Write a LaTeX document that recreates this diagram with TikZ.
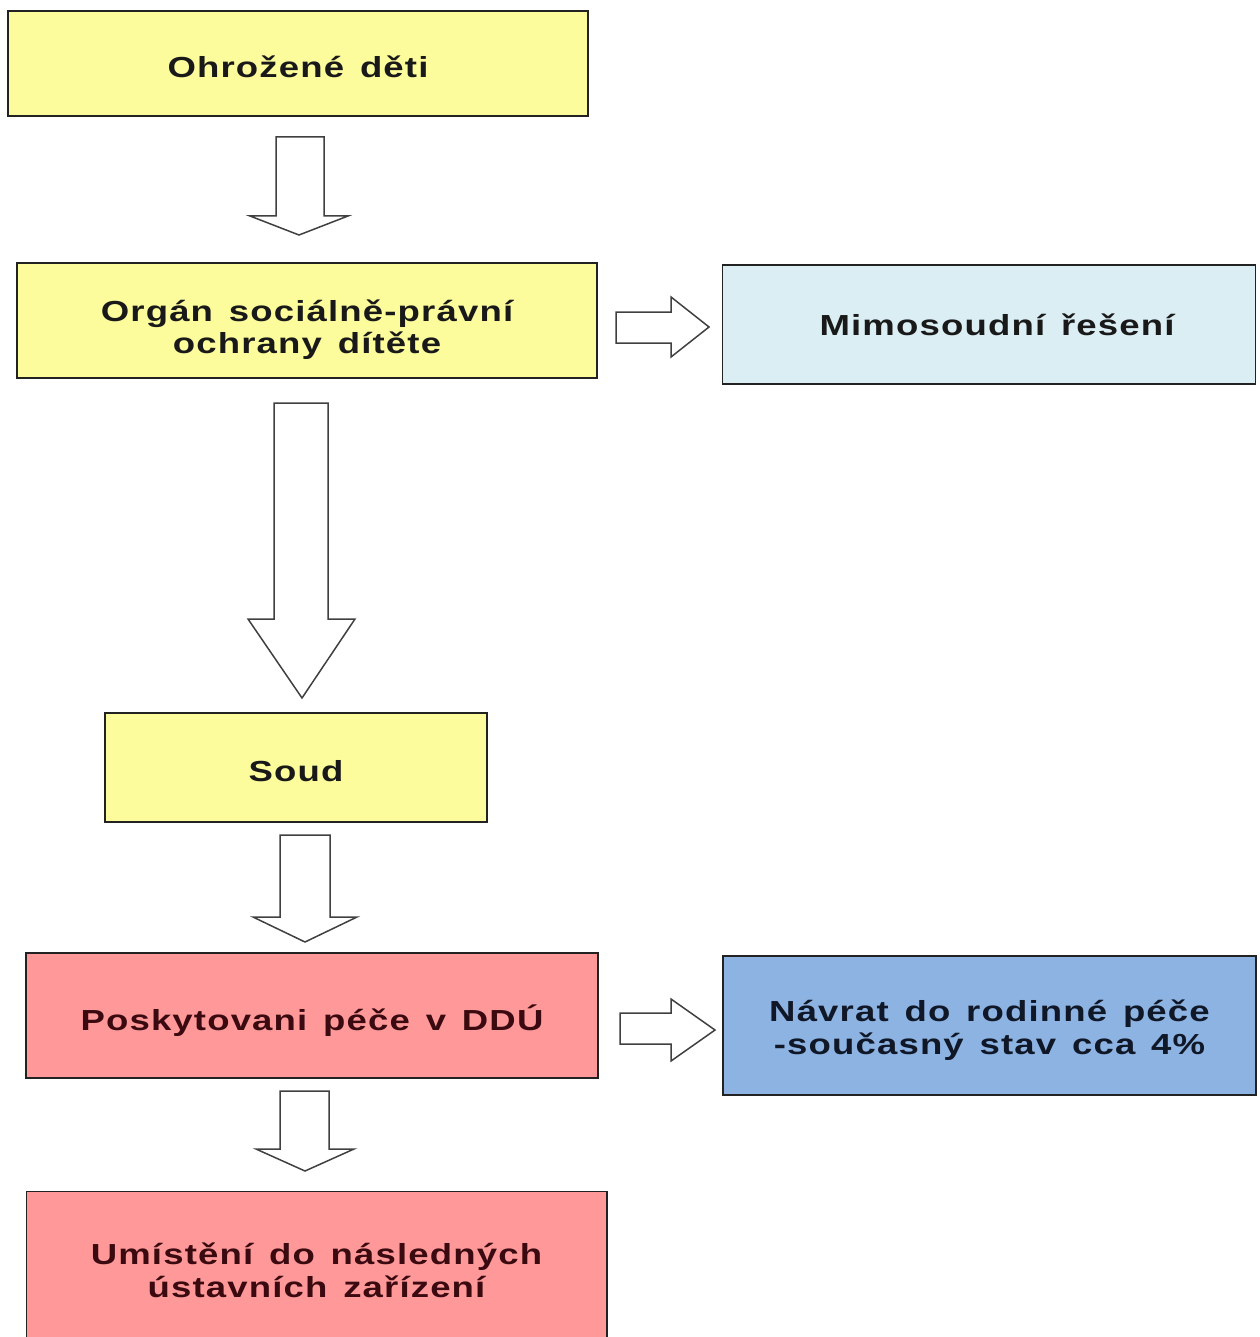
\documentclass[tikz,border=0pt]{standalone}
\usepackage{fontspec}
\newfontfamily\boxfont[FakeStretch=1.26,LetterSpace=4,WordSpace=1.4]{Liberation Sans Bold}
\definecolor{yel}{HTML}{FCFC9C}
\definecolor{lblue}{HTML}{DAEEF3}
\definecolor{pinkc}{HTML}{FF9999}
\definecolor{bluec}{HTML}{8DB3E2}
\definecolor{edge}{HTML}{222222}
\definecolor{arrowedge}{HTML}{404040}
\definecolor{maroon}{HTML}{3A0A10}
\definecolor{navy}{HTML}{101828}
\begin{document}
\begin{tikzpicture}[x=1pt,y=-1pt,
  box/.style={draw=edge, line width=1.5pt, inner sep=0pt},
  txt/.style={inner sep=0pt, align=center,
    font=\boxfont\fontsize{29}{32.5}\selectfont, text=black!90, text depth=0pt},
  blockarrow/.style={draw=arrowedge, line width=1.5pt, fill=white, line join=miter}]
\useasboundingbox (0,0) rectangle (1259,1337);

% boxes
\node[box, fill=yel, minimum width=580pt, minimum height=105pt] (b1) at (298,63.5) {};
\node[box, fill=yel, minimum width=580pt, minimum height=115pt] (b2) at (307,320.5) {};
\node[box, fill=lblue, minimum width=533pt, minimum height=119pt] (b3) at (989,324.5) {};
\node[box, fill=yel, minimum width=382pt, minimum height=109pt] (b4) at (296,767.5) {};
\node[box, fill=pinkc, minimum width=572pt, minimum height=125pt] (b5) at (312,1015.5) {};
\node[box, fill=bluec, minimum width=533pt, minimum height=139pt] (b6) at (989.5,1025.5) {};
\node[box, draw=none, fill=pinkc, minimum width=579pt, minimum height=150pt] (b7) at (316.5,1267) {};
\draw[edge, line width=1.5pt] (b7.south west) -- (b7.north west) -- (b7.north east) -- (b7.south east);

% texts
\node[txt, yshift=-3pt] (t1) at (b1.center) {Ohrožené děti};
\node[txt, yshift=-6pt] (t2) at (b2.center) {Orgán sociálně-právní\\ochrany dítěte};
\node[txt, xshift=8pt] (t3) at (b3.center) {Mimosoudní řešení};
\node[txt, yshift=-3pt] (t4) at (b4.center) {Soud};
\node[txt, text=maroon, yshift=-2pt] (t5) at (b5.center) {Poskytovani péče v DDÚ};
\node[txt, text=navy, yshift=-1.5pt] (t6) at (b6.center) {Návrat do rodinné péče\\-současný stav cca 4\%};
\node[txt, text=maroon, yshift=-3pt] (t7) at (b7.center) {Umístění do následných\\ústavních zařízení};

% block arrows
\draw[blockarrow] (276,137) -- (324,137) -- (324,216) -- (348,216) -- (299,235) -- (250,216) -- (276,216) -- cycle;
\draw[blockarrow] (616,312) -- (671,312) -- (671,297) -- (709,327) -- (671,357) -- (671,343) -- (616,343) -- cycle;
\draw[blockarrow] (274,403) -- (328,403) -- (328,619) -- (355,619) -- (302,698) -- (248,619) -- (274,619) -- cycle;
\draw[blockarrow] (280,835) -- (330,835) -- (330,917) -- (357,917) -- (305,942) -- (253,917) -- (280,917) -- cycle;
\draw[blockarrow] (620,1013) -- (671,1013) -- (671,999) -- (715,1030) -- (671,1061) -- (671,1044) -- (620,1044) -- cycle;
\draw[blockarrow] (280,1091) -- (329,1091) -- (329,1149) -- (354,1149) -- (305,1171) -- (256,1149) -- (280,1149) -- cycle;
\end{tikzpicture}
\end{document}
